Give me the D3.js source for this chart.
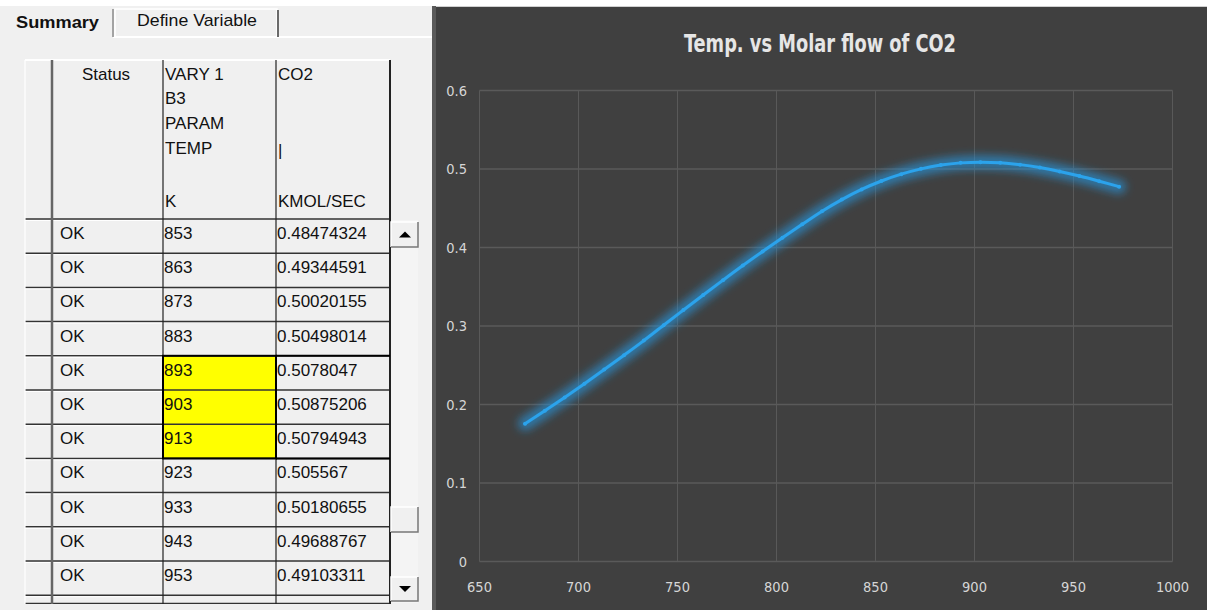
<!DOCTYPE html>
<html>
<head>
<meta charset="utf-8">
<script src="https://cdn.jsdelivr.net/npm/d3@7/dist/d3.min.js"></script>
<style>
  body { margin: 0; background: #ffffff; }
  svg { display: block; }
  .cell { font-family: "Liberation Sans", Arial, sans-serif; font-size: 17px; fill: #111; }
  .tick-lbl { font-family: "Liberation Sans Narrow", "DejaVu Sans Condensed", sans-serif; font-size: 14.5px; fill: #d6d6d6; }
</style>
</head>
<body>
<script>
var temps = [673, 683, 693, 703, 713, 723, 733, 743, 753, 763, 773, 783, 793, 803, 813, 823, 833, 843,
  853, 863, 873, 883, 893, 903, 913, 923, 933, 943, 953, 963, 973];
var co2 = [0.1755, 0.192, 0.209, 0.2265, 0.2445, 0.2628, 0.2814, 0.301, 0.3203, 0.3395, 0.3584, 0.377,
  0.395, 0.4125, 0.4295, 0.4462, 0.461, 0.474,
  0.48474324, 0.49344591, 0.50020155, 0.50498014, 0.5078047, 0.50875206, 0.50794943, 0.505567,
  0.50180655, 0.49688767, 0.49103311, 0.4844555, 0.4775];
var tableFrom = 853, tableTo = 963;
var highlighted = [893, 903, 913];
var xTicks = [650, 700, 750, 800, 850, 900, 950, 1000];
var yTicks = [0, 0.1, 0.2, 0.3, 0.4, 0.5, 0.6];
var chartTitle = "Temp. vs Molar flow of CO2";

var W = 1207, H = 610;
var svg = d3.select("body").append("svg").attr("width", W).attr("height", H);

// ---------- left panel: parameter table ----------
svg.append("rect").attr("x", 0).attr("y", 0).attr("width", 436).attr("height", H).attr("fill", "#f0f0f0")
svg.append("rect").attr("x", 0).attr("y", 0).attr("width", 436).attr("height", 6).attr("fill", "#ffffff")

// tabs
svg.append("line").attr("x1", 113).attr("x2", 433).attr("y1", 37).attr("y2", 37).attr("stroke", "#ffffff").attr("stroke-width", 2)
svg.append("path").attr("d", "M115,37 V9 H277 V37").attr("fill", "none").attr("stroke", "#ffffff").attr("stroke-width", 1.5)
svg.append("path").attr("d", "M113,37 V9").attr("stroke", "#8a8a8a").attr("stroke-width", 1.5)
svg.append("path").attr("d", "M278,10 V37").attr("stroke", "#6a6a6a").attr("stroke-width", 2)
svg.append("text").attr("class", "cell").attr("x", 16).attr("y", 28).style("font-weight", "bold")
  .attr("textLength", 83).attr("lengthAdjust", "spacingAndGlyphs").text("Summary")
svg.append("text").attr("class", "cell").attr("x", 137).attr("y", 26)
  .attr("textLength", 120).attr("lengthAdjust", "spacingAndGlyphs").text("Define Variable")

// right border of panel
svg.append("rect").attr("x", 432).attr("y", 6).attr("width", 4).attr("height", H).attr("fill", "#5a5a5a")

var cols = [25, 52, 163, 276, 390];
var headTop = 60, headBot = 219, rowH = 34.2;
var rows = temps.map(function(t, i) { return { t: t, v: co2[i] } })
  .filter(function(d) { return d.t >= tableFrom && d.t <= tableTo });

var grid = svg.append("g");
var clip = svg.append("clipPath").attr("id", "tclip").append("rect")
  .attr("x", 0).attr("y", 0).attr("width", 436).attr("height", 605);
var body = grid.append("g").attr("clip-path", "url(#tclip)");

// yellow cells
body.selectAll("rect.hl").data(rows.filter(function(d) { return highlighted.indexOf(d.t) >= 0 }))
  .enter().append("rect").attr("class", "hl")
  .attr("x", cols[2]).attr("width", cols[3] - cols[2])
  .attr("y", function(d) { return headBot + rows.indexOf(d) * rowH })
  .attr("height", rowH).attr("fill", "#ffff00")

// data rows (the last one is cut by the window edge)
var rg = body.selectAll("g.r").data(rows).enter().append("g")
  .attr("transform", function(d, i) { return "translate(0," + (headBot + i * rowH + 20) + ")" })
rg.append("text").attr("class", "cell").attr("x", 60).text("OK")
rg.append("text").attr("class", "cell").attr("x", 164).text(function(d) { return d.t })
rg.append("text").attr("class", "cell").attr("x", 277).text(function(d) { return String(d.v) })

// cover below the visible grid
svg.append("rect").attr("x", 0).attr("y", 604).attr("width", 432).attr("height", 6).attr("fill", "#f0f0f0")

// row lines
body.selectAll("line.row").data(d3.range(rows.length)).enter().append("line")
  .attr("x1", cols[0]).attr("x2", cols[4])
  .attr("y1", function(i) { return headBot + i * rowH }).attr("y2", function(i) { return headBot + i * rowH })
  .attr("stroke", "#333").attr("stroke-width", 1.5)
body.selectAll("line.rowhi").data(d3.range(rows.length)).enter().append("line")
  .attr("x1", cols[0]).attr("x2", cols[2])
  .attr("y1", function(i) { return headBot + i * rowH + 1.5 }).attr("y2", function(i) { return headBot + i * rowH + 1.5 })
  .attr("stroke", "#ffffff").attr("stroke-width", 1)
grid.append("line").attr("x1", cols[0]).attr("x2", cols[4]).attr("y1", 603.5).attr("y2", 603.5).attr("stroke", "#333").attr("stroke-width", 1.5)

// header top line
grid.append("line").attr("x1", cols[0]).attr("x2", cols[4]).attr("y1", headTop).attr("y2", headTop).attr("stroke", "#ffffff").attr("stroke-width", 2)

// column lines
grid.selectAll("line.col").data(cols).enter().append("line")
  .attr("x1", function(d) { return d }).attr("x2", function(d) { return d })
  .attr("y1", headTop).attr("y2", 604)
  .attr("stroke", function(d, i) { return i === 0 ? "#ffffff" : (i === 1 ? "#666" : "#222") })
  .attr("stroke-width", function(d, i) { return i === 4 ? 2 : (i === 1 ? 2.5 : 1.2) })

// highlight block border
var hi0 = rows.findIndex(function(d) { return d.t === highlighted[0] });
var hiN = highlighted.length;
grid.append("rect").attr("x", cols[2]).attr("y", headBot + hi0 * rowH)
  .attr("width", cols[3] - cols[2]).attr("height", hiN * rowH)
  .attr("fill", "none").attr("stroke", "#000").attr("stroke-width", 2)
grid.selectAll("line.hb").data([hi0, hi0 + hiN]).enter().append("line")
  .attr("x1", cols[3]).attr("x2", cols[4])
  .attr("y1", function(i) { return headBot + i * rowH }).attr("y2", function(i) { return headBot + i * rowH })
  .attr("stroke", "#000").attr("stroke-width", 2)

// header text
var head = [
  { x: 106, y: 80, t: "Status", a: "middle" },
  { x: 165, y: 80, t: "VARY 1" }, { x: 165, y: 104, t: "B3" }, { x: 165, y: 129, t: "PARAM" },
  { x: 165, y: 154, t: "TEMP" }, { x: 165, y: 207, t: "K" },
  { x: 278, y: 80, t: "CO2" }, { x: 278, y: 156, t: "|" }, { x: 278, y: 207, t: "KMOL/SEC" }
];
grid.selectAll("text.h").data(head).enter().append("text").attr("class", "cell")
  .attr("x", function(d) { return d.x }).attr("y", function(d) { return d.y })
  .attr("text-anchor", function(d) { return d.a || "start" })
  .text(function(d) { return d.t })

// scroll bar
function button(y, h, arrow) {
  var g = svg.append("g")
  g.append("rect").attr("x", 391).attr("y", y).attr("width", 27).attr("height", h).attr("fill", "#f0f0f0")
  g.append("path").attr("d", "M391," + (y + h) + " V" + y + " H418").attr("fill", "none").attr("stroke", "#ffffff").attr("stroke-width", 1.5)
  g.append("path").attr("d", "M391," + (y + h) + " H418 V" + y).attr("fill", "none").attr("stroke", "#777").attr("stroke-width", 1.5)
  if (arrow === "up") g.append("path").attr("d", "M399," + (y + h / 2 + 3) + " L411," + (y + h / 2 + 3) + " L405," + (y + h / 2 - 3) + "Z").attr("fill", "#000")
  if (arrow === "down") g.append("path").attr("d", "M399," + (y + h / 2 - 3) + " L411," + (y + h / 2 - 3) + " L405," + (y + h / 2 + 3) + "Z").attr("fill", "#000")
}
svg.append("rect").attr("x", 391).attr("y", 220).attr("width", 27).attr("height", 383).attr("fill", "#f4f4f4")
button(222, 25, "up")
button(507, 25, null)
button(577, 24, "down")

// ---------- right panel: chart ----------
svg.append("rect").attr("x", 436).attr("y", 7).attr("width", W - 436).attr("height", H - 7).attr("fill", "#404040")
svg.append("line").attr("x1", 436).attr("x2", W).attr("y1", 6.5).attr("y2", 6.5).attr("stroke", "#d0d0d0")

var x = d3.scaleLinear().domain([650, 1000]).range([479.5, 1172.5]);
var y = d3.scaleLinear().domain([0, 0.6]).range([561.5, 90.5]);

var defs = svg.append("defs");
var f = defs.append("filter").attr("id", "glow").attr("x", "-20%").attr("y", "-20%").attr("width", "140%").attr("height", "140%");
f.append("feGaussianBlur").attr("stdDeviation", 4);

var chart = svg.append("g");
chart.selectAll("line.gx").data(xTicks).enter().append("line")
  .attr("x1", function(d) { return x(d) }).attr("x2", function(d) { return x(d) })
  .attr("y1", y(0.6)).attr("y2", y(0))
  .attr("stroke", "#595959").attr("stroke-width", 1)
chart.selectAll("line.gy").data(yTicks).enter().append("line")
  .attr("x1", x(650)).attr("x2", x(1000))
  .attr("y1", function(d) { return y(d) }).attr("y2", function(d) { return y(d) })
  .attr("stroke", "#5a5a5a").attr("stroke-width", 1.5)

chart.selectAll("text.yl").data(yTicks).enter().append("text").attr("class", "tick-lbl")
  .attr("x", 467).attr("y", function(d) { return y(d) + 5 }).attr("text-anchor", "end")
  .text(function(d) { return d })
chart.selectAll("text.xl").data(xTicks).enter().append("text").attr("class", "tick-lbl")
  .attr("x", function(d) { return x(d) }).attr("y", 592).attr("text-anchor", "middle")
  .text(function(d) { return d })

chart.append("text").attr("x", 820).attr("y", 52).attr("text-anchor", "middle")
  .attr("textLength", 272).attr("lengthAdjust", "spacingAndGlyphs")
  .style("font-family", "\"Liberation Sans Narrow\", \"DejaVu Sans Condensed\", sans-serif")
  .style("font-size", "25px").style("font-weight", "bold").style("fill", "#e6e6e6")
  .text(chartTitle)

var pts = temps.map(function(t, i) { return [t, co2[i]] });
var line = d3.line().x(function(d) { return x(d[0]) }).y(function(d) { return y(d[1]) }).curve(d3.curveCatmullRom);

chart.append("path").datum(pts).attr("d", line).attr("fill", "none")
  .attr("stroke", "#2a8fd0").attr("stroke-opacity", 0.7).attr("stroke-width", 14)
  .attr("stroke-linecap", "round").attr("filter", "url(#glow)")
chart.append("path").datum(pts).attr("d", line).attr("fill", "none")
  .attr("stroke", "#2ba3ec").attr("stroke-width", 3).attr("stroke-linecap", "round")
chart.selectAll("circle.pt").data(pts).enter().append("circle")
  .attr("cx", function(d) { return x(d[0]) }).attr("cy", function(d) { return y(d[1]) })
  .attr("r", 2).attr("fill", "#2ba3ec")
</script>
</body>
</html>
